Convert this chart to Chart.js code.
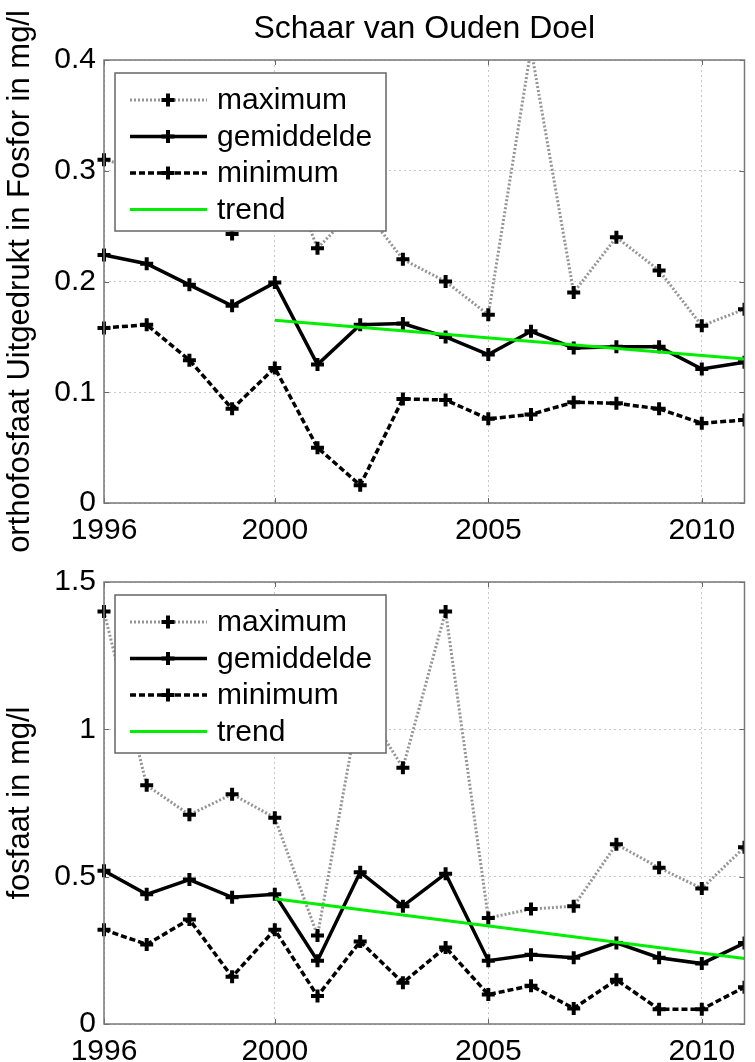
<!DOCTYPE html>
<html>
<head>
<meta charset="utf-8">
<script src="https://cdn.jsdelivr.net/npm/chart.js@4.4.1/dist/chart.umd.min.js"></script>
<style>
  html, body { margin: 0; padding: 0; background: #fff; }
  #wrap { position: relative; width: 755px; height: 1062px; overflow: hidden; }
  canvas { position: absolute; left: 0; }
  #c1 { top: 0; }
  #c2 { top: 520px; }
</style>
</head>
<body>
<div id="wrap">
  <canvas id="c1" width="755" height="560"></canvas>
  <canvas id="c2" width="755" height="542"></canvas>
</div>
<script>
var jaren = [1996, 1997, 1998, 1999, 2000, 2001, 2002, 2003, 2004, 2005, 2006, 2007, 2008, 2009, 2010, 2011];
var xTicks = [1996, 2000, 2005, 2010];

// orthofosfaat (als P) in mg/l
var orthoMax  = [0.31, 0.30, 0.28, 0.243, 0.33, 0.23, 0.27, 0.22, 0.20, 0.17, 0.41, 0.19, 0.24, 0.21, 0.16, 0.175];
var orthoGem  = [0.224, 0.216, 0.197, 0.178, 0.199, 0.125, 0.161, 0.162, 0.150, 0.134, 0.155, 0.140, 0.141, 0.141, 0.121, 0.127];
var orthoMin  = [0.158, 0.161, 0.129, 0.085, 0.122, 0.050, 0.016, 0.094, 0.093, 0.076, 0.080, 0.091, 0.090, 0.085, 0.072, 0.075];
var orthoTicks = [0, 0.1, 0.2, 0.3, 0.4];

// fosfaat in mg/l
var fosMax = [1.40, 0.81, 0.71, 0.78, 0.70, 0.30, 1.10, 0.87, 1.40, 0.36, 0.39, 0.40, 0.61, 0.53, 0.46, 0.60];
var fosGem = [0.52, 0.44, 0.49, 0.43, 0.44, 0.215, 0.515, 0.40, 0.51, 0.215, 0.235, 0.225, 0.275, 0.225, 0.205, 0.275];
var fosMin = [0.32, 0.27, 0.355, 0.16, 0.32, 0.095, 0.28, 0.14, 0.26, 0.10, 0.13, 0.053, 0.15, 0.05, 0.05, 0.125];
var fosTicks = [0, 0.5, 1, 1.5];

// trendlijnen
var trendJaren = [2000, 2011];
var orthoTrend = [0.165, 0.130];
var fosTrend = [0.425, 0.222];

Chart.defaults.font.family = "'Liberation Sans', Arial, sans-serif";
Chart.defaults.color = '#000';

function punten(xs, ys) {
  return xs.map(function(x, i) { return { x: x, y: ys[i] }; });
}

function kruisje(ctx, x, y, r, w) {
  ctx.save();
  ctx.setLineDash([]);
  ctx.strokeStyle = '#000';
  ctx.lineWidth = w;
  ctx.beginPath();
  ctx.moveTo(x - r, y); ctx.lineTo(x + r, y);
  ctx.moveTo(x, y - r); ctx.lineTo(x, y + r);
  ctx.stroke();
  ctx.restore();
}

// kader, tickjes binnenin, legende en titel
var kaderPlugin = {
  id: 'kader',
  afterDatasetsDraw: function(chart, args, opts) {
    var ctx = chart.ctx, a = chart.chartArea;
    var xs = chart.scales.x, ys = chart.scales.y;
    ctx.save();
    ctx.strokeStyle = '#666';
    ctx.lineWidth = 1;
    ctx.beginPath();
    xs.ticks.forEach(function(t) {
      var px = Math.round(xs.getPixelForValue(t.value)) + 0.5;
      ctx.moveTo(px, a.top); ctx.lineTo(px, a.top + 5);
      ctx.moveTo(px, a.bottom); ctx.lineTo(px, a.bottom - 5);
    });
    ys.ticks.forEach(function(t) {
      var py = Math.round(ys.getPixelForValue(t.value)) + 0.5;
      ctx.moveTo(a.left, py); ctx.lineTo(a.left + 5, py);
      ctx.moveTo(a.right, py); ctx.lineTo(a.right - 5, py);
    });
    ctx.stroke();
    ctx.strokeStyle = '#777';
    ctx.lineWidth = 1.5;
    ctx.strokeRect(a.left, a.top, a.right - a.left, a.bottom - a.top);

    // legende
    var lx = a.left + 11, ly = a.top + 13, bw = 271, bh = 158;
    ctx.fillStyle = '#fff';
    ctx.fillRect(lx, ly, bw, bh);
    ctx.strokeStyle = '#666';
    ctx.lineWidth = 1.5;
    ctx.strokeRect(lx, ly, bw, bh);
    ctx.font = "30px 'Liberation Sans', Arial, sans-serif";
    ctx.textBaseline = 'middle';
    ctx.textAlign = 'left';
    chart.data.datasets.forEach(function(ds, i) {
      var y = ly + 27 + i * 36.5;
      ctx.setLineDash(ds.borderDash || []);
      ctx.strokeStyle = ds.borderColor;
      ctx.lineWidth = ds.borderWidth;
      ctx.beginPath();
      ctx.moveTo(lx + 15, y); ctx.lineTo(lx + 92, y);
      ctx.stroke();
      ctx.setLineDash([]);
      if (ds.pointRadius > 0) kruisje(ctx, lx + 53, y, ds.pointRadius, ds.pointBorderWidth);
      ctx.fillStyle = '#000';
      ctx.fillText(ds.label, lx + 102, y + 1);
    });

    if (opts.titel) {
      ctx.font = "32px 'Liberation Sans', Arial, sans-serif";
      ctx.textAlign = 'center';
      ctx.textBaseline = 'alphabetic';
      ctx.fillStyle = '#000';
      ctx.fillText(opts.titel, (a.left + a.right) / 2, 38);
    }
    ctx.restore();
  }
};

function maakGrafiek(id, titel, yTitel, maxW, gemW, minW, trendW, yTicks, padTop, xHoogte) {
  var yMax = yTicks[yTicks.length - 1];
  var datasets = [
    {
      label: 'maximum', data: punten(jaren, maxW), order: 3,
      borderColor: '#959595', borderWidth: 3, borderDash: [2, 2],
      pointStyle: 'cross', pointRadius: 6.5, pointBorderWidth: 4,
      pointBorderColor: '#000', pointBackgroundColor: '#000'
    },
    {
      label: 'gemiddelde', data: punten(jaren, gemW), order: 2,
      borderColor: '#000', borderWidth: 3.5, borderDash: [],
      pointStyle: 'cross', pointRadius: 6.5, pointBorderWidth: 4,
      pointBorderColor: '#000', pointBackgroundColor: '#000'
    },
    {
      label: 'minimum', data: punten(jaren, minW), order: 1,
      borderColor: '#000', borderWidth: 3.5, borderDash: [6, 3],
      pointStyle: 'cross', pointRadius: 6.5, pointBorderWidth: 4,
      pointBorderColor: '#000', pointBackgroundColor: '#000'
    },
    {
      label: 'trend', data: punten(trendJaren, trendW), order: 0,
      borderColor: '#00ee00', borderWidth: 3, borderDash: [],
      pointRadius: 0
    }
  ];
  datasets.forEach(function(ds) {
    ds.clip = { left: 12, top: 0, right: 0, bottom: 12 };
    ds.tension = 0;
    ds.fill = false;
  });

  return new Chart(document.getElementById(id), {
    type: 'line',
    data: { datasets: datasets },
    options: {
      responsive: false,
      animation: false,
      layout: { padding: { left: 0, right: 5, top: padTop, bottom: 0 } },
      plugins: {
        legend: { display: false },
        tooltip: { enabled: false },
        kader: { titel: titel }
      },
      scales: {
        x: {
          type: 'linear', min: 1996, max: 2011,
          afterBuildTicks: function(s) { s.ticks = xTicks.map(function(v) { return { value: v }; }); },
          afterFit: function(s) { s.height = xHoogte; },
          ticks: {
            autoSkip: false, maxRotation: 0, padding: 10,
            font: { size: 30 },
            callback: function(v) { return String(v); }
          },
          grid: { color: '#c8c8c8', lineWidth: 1, drawTicks: false },
          border: { display: false, dash: [2, 3] }
        },
        y: {
          min: 0, max: yMax,
          afterBuildTicks: function(s) { s.ticks = yTicks.map(function(v) { return { value: v }; }); },
          afterFit: function(s) { s.width = 104; },
          ticks: { padding: 8, font: { size: 30 }, callback: function(v) { return String(v); } },
          grid: { color: '#c8c8c8', lineWidth: 1, drawTicks: false },
          border: { display: false, dash: [2, 3] },
          title: { display: true, text: yTitel, font: { size: 31 }, padding: { top: 2, bottom: 0 } }
        }
      }
    },
    plugins: [kaderPlugin]
  });
}

maakGrafiek('c1', 'Schaar van Ouden Doel', 'orthofosfaat Uitgedrukt in Fosfor in mg/l',
  orthoMax, orthoGem, orthoMin, orthoTrend, orthoTicks, 60, 57);
maakGrafiek('c2', '', 'fosfaat in mg/l',
  fosMax, fosGem, fosMin, fosTrend, fosTicks, 62, 38);
</script>
</body>
</html>
